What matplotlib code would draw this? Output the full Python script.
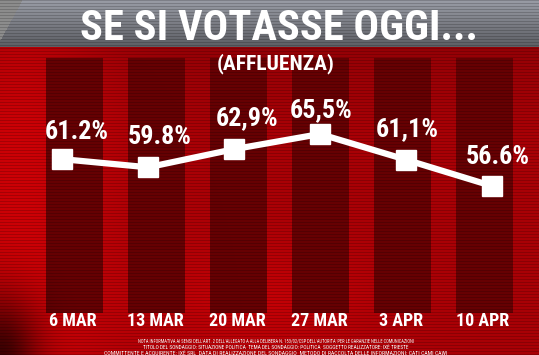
import numpy as np
import matplotlib
matplotlib.use("Agg")
import matplotlib.pyplot as plt

# data
dates = ["6 MAR", "13 MAR", "20 MAR", "27 MAR", "3 APR", "10 APR"]
turnout = [61.2, 59.8, 62.9, 65.5, 61.1, 56.6]
labels = ["61.2%", "59.8%", "62,9%", "65,5%", "61,1%", "56.6%"]

title = "SE SI VOTASSE OGGI..."
subtitle = "(AFFLUENZA)"
notes = [
    "NOTA INFORMATIVA AI SENSI DELL'ART. 2 DELL'ALLEGATO A ALLA DELIBERA N. 153/02/CSP DELL'AUTORITA' PER LE GARANZIE NELLE COMUNICAZIONI",
    "TITOLO DEL SONDAGGIO: SITUAZIONE POLITICA  TEMA DEL SONDAGGIO: POLITICA  SOGGETTO REALIZZATORE: IXÈ TRIESTE",
    "COMMITTENTE E ACQUIRENTE: IXÈ SRL  DATA DI REALIZZAZIONE DEL SONDAGGIO  METODO DI RACCOLTA DELLE INFORMAZIONI: CATI CAMI CAWI",
]

W, H = 539, 355
cond = ["Roboto Condensed", "DejaVu Sans"]

# background picture (banner + red studio wall with scanlines)
yy, xx = np.mgrid[0:H, 0:W].astype(float)
img = np.zeros((H, W, 3))
band = 47
r = 0.66 + 0.14 * np.exp(-((xx - 20) / 90) ** 2) + 0.10 * np.exp(-((xx - 260) / 120) ** 2 - ((yy - 300) / 60) ** 2)
r = r - 0.12 * (yy < 130) * (1 - yy / 130)
img[..., 0] = r
img[..., 2] = 0.02
for i in range(6):
    x0 = 46 + 82 * i
    m = (xx >= x0) & (xx < x0 + 57) & (yy >= 58) & (yy < 313)
    img[m, 0] = 0.40
    img[m, 2] = 0.01
g = 0.60 - 0.24 * (yy / band)
for c, k in enumerate([1.0, 1.02, 1.08]):
    img[..., c] = np.where(yy < band, g * k, img[..., c])
corner = (yy < band) & (xx + yy * 0.55 < 22)
img[corner] = [0.55, 0.55, 0.55]
img[(yy.astype(int) % 3) == 0] *= 0.82
v = np.exp(-(((xx) / 40) ** 2 + ((yy - H) / 60) ** 2))
img *= (1 - 0.7 * v)[..., None]
img = np.clip(img, 0, 1)

fig = plt.figure(figsize=(W / 100, H / 100), dpi=100)
bg = fig.add_axes([0, 0, 1, 1])
bg.imshow(img, extent=[0, W, H, 0], aspect="auto", interpolation="bilinear")
bg.set_xlim(0, W)
bg.set_ylim(H, 0)
bg.axis("off")

t_title = bg.text(279, 29, title, color="white", fontsize=34, fontweight="bold",
                  family=cond, ha="center", va="center")
t_sub = bg.text(276, 64, subtitle, color="white", fontsize=17, fontweight="bold",
                family=cond, ha="center", va="center")
note_w = [278, 265, 342]
t_notes = []
for k, line in enumerate(notes):
    t_notes.append(bg.text(276, 341 + 6 * k, line, color="white", fontsize=3,
                           family=cond, ha="center", va="center"))

# data axes: x index 0..5 -> px 62..492, values -> px
px_per = 5.84
top_px, bot_px = 100, 220
ymax = 65.5 + (134 - top_px) / px_per
ymin = 56.6 - (bot_px - 186) / px_per
ax = fig.add_axes([62 / W, 1 - bot_px / H, (492 - 62) / W, (bot_px - top_px) / H])
ax.patch.set_alpha(0)
x = np.arange(len(turnout))
ax.plot(x, turnout, color="white", lw=4.5, marker="s", ms=14.5, solid_joinstyle="miter", clip_on=False)
dx = [0.17, 0.14, 0.15, 0.01, 0.02, 0.07]
dy = [27, 30, 31, 24, 31, 29]
t_vals = []
for i, (val, lab) in enumerate(zip(turnout, labels)):
    t_vals.append(ax.annotate(lab, (i, val), xytext=(dx[i] * 86 / 1.389, dy[i] / 1.389),
                              textcoords="offset points", ha="center", va="center",
                              color="white", fontsize=20, fontweight="bold", family=cond))
ax.set_xlim(0, 5)
ax.set_ylim(ymin, ymax)
for s in ax.spines.values():
    s.set_visible(False)
ax.set_yticks([])
ax.set_xticks(0.128 + 0.953 * x)
ax.set_xticklabels(dates, color="white", fontsize=14, fontweight="bold", family=cond)
ax.tick_params(axis="x", length=0, pad=(325 - bot_px) / 1.389 - 9)

# fit text sizes to the widths seen in the reference
fig.canvas.draw()
rend = fig.canvas.get_renderer()


def fit(t, width):
    w = t.get_window_extent(rend).width
    t.set_fontsize(t.get_fontsize() * width / w)


fit(t_title, 398)
fit(t_sub, 118)
for t, w in zip(t_notes, note_w):
    fit(t, w)
w0 = t_vals[0].get_window_extent(rend).width
for t in t_vals:
    t.set_fontsize(t.get_fontsize() * 64 / w0)
ticks = ax.get_xticklabels()
wt = ticks[1].get_window_extent(rend).width
for t in ticks:
    t.set_fontsize(t.get_fontsize() * 57 / wt)

fig.savefig("out.png", dpi=100)
